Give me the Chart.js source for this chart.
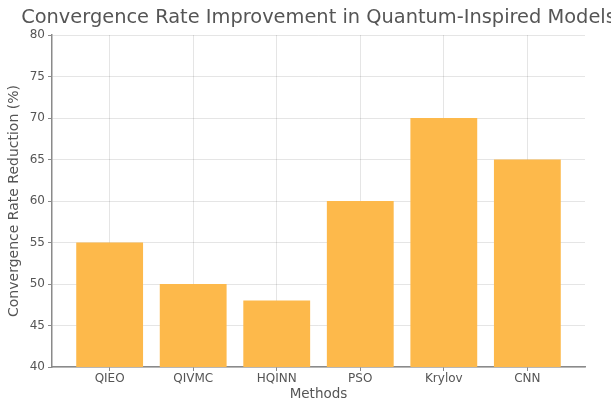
<!DOCTYPE html>
<html>
<head>
<meta charset="utf-8">
<script src="https://cdn.jsdelivr.net/npm/chart.js@4.4.1/dist/chart.umd.min.js"></script>
<style>
  html, body { margin: 0; padding: 0; background: #ffffff; }
  #wrap { width: 611px; height: 403px; }
</style>
</head>
<body>
<div id="wrap"><canvas id="c" width="611" height="403"></canvas></div>
<script>
// Methods compared and their convergence-rate reduction (%)
const methods = ['QIEO', 'QIVMC', 'HQINN', 'PSO', 'Krylov', 'CNN'];
const reduction = [55, 50, 48, 60, 70, 65];
const yTicks = [40, 45, 50, 55, 60, 65, 70, 75, 80];

const chartTitle = 'Convergence Rate Improvement in Quantum-Inspired Models';
const textGrey = '#555555';
const spineGrey = '#8a8a8a';
const gridGrey = 'rgba(0,0,0,0.10)';
const barColor = '#FDB94B';

// Title centred over the plotting area
const titlePlugin = {
  id: 'centredTitle',
  afterDraw(chart) {
    const { ctx, chartArea } = chart;
    ctx.save();
    ctx.font = '19.4px "DejaVu Sans"';
    ctx.fillStyle = textGrey;
    ctx.textAlign = 'center';
    ctx.textBaseline = 'middle';
    ctx.fillText(chartTitle, (chartArea.left + chartArea.right) / 2, 18);
    ctx.restore();
  }
};

new Chart(document.getElementById('c'), {
  type: 'bar',
  data: {
    datasets: [{
      data: methods.map((m, i) => ({ x: i, y: reduction[i] })),
      backgroundColor: barColor,
      borderWidth: 0,
      barPercentage: 0.8,
      categoryPercentage: 1.0
    }]
  },
  options: {
    responsive: false,
    animation: false,
    layout: { padding: { top: 35, right: 26, left: 0, bottom: 0 } },
    plugins: {
      legend: { display: false },
      tooltip: { enabled: false },
      title: { display: false }
    },
    scales: {
      x: {
        type: 'linear',
        offset: false,
        min: -0.69,
        max: 5.69,
        afterBuildTicks(scale) {
          scale.ticks = methods.map((m, i) => ({ value: i }));
        },
        afterFit(scale) { scale.height = 36; },
        ticks: {
          autoSkip: false,
          maxRotation: 0,
          padding: 1,
          color: textGrey,
          font: { family: 'DejaVu Sans', size: 12 },
          callback: (v) => methods[v]
        },
        grid: {
          offset: false,
          color: gridGrey,
          borderDash: [3, 3],
          tickColor: spineGrey,
          tickLength: 4,
          tickBorderDash: []
        },
        border: { display: true, color: spineGrey, width: 1.5 },
        title: {
          display: true,
          text: 'Methods',
          color: textGrey,
          font: { family: 'DejaVu Sans', size: 13.5 },
          padding: { top: 0, bottom: 0 }
        }
      },
      y: {
        min: 40,
        max: 80,
        afterBuildTicks(scale) {
          scale.ticks = yTicks.map(v => ({ value: v }));
        },
        afterFit(scale) { scale.width = 52; },
        ticks: {
          padding: 3,
          color: textGrey,
          font: { family: 'DejaVu Sans', size: 12 }
        },
        grid: {
          color: gridGrey,
          borderDash: [3, 3],
          tickColor: spineGrey,
          tickLength: 4,
          tickBorderDash: []
        },
        border: { display: true, color: spineGrey, width: 1.5 },
        title: {
          display: true,
          text: 'Convergence Rate Reduction (%)',
          color: textGrey,
          font: { family: 'DejaVu Sans', size: 14 },
          padding: { top: 6, bottom: 0 }
        }
      }
    }
  },
  plugins: [titlePlugin]
});
</script>
</body>
</html>
